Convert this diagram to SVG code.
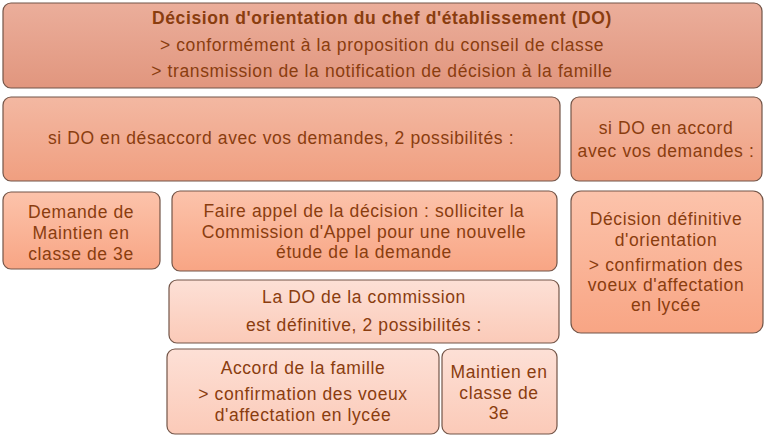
<svg xmlns="http://www.w3.org/2000/svg" width="767" height="437" viewBox="0 0 767 437">
<defs>
<linearGradient id="g1" x1="0" y1="0" x2="0" y2="1"><stop offset="0" stop-color="#ebae9b"/><stop offset="1" stop-color="#e1967e"/></linearGradient>
<linearGradient id="g2" x1="0" y1="0" x2="0" y2="1"><stop offset="0" stop-color="#f3b8a2"/><stop offset="1" stop-color="#f09f80"/></linearGradient>
<linearGradient id="g3" x1="0" y1="0" x2="0" y2="1"><stop offset="0" stop-color="#fcc3ab"/><stop offset="1" stop-color="#f8a584"/></linearGradient>
<linearGradient id="g4" x1="0" y1="0" x2="0" y2="1"><stop offset="0" stop-color="#fde0d6"/><stop offset="1" stop-color="#fbcab8"/></linearGradient>
</defs>
<style>
rect{stroke:#735548;stroke-width:1.2}
text{font-family:"Liberation Sans",Arial,sans-serif;font-size:17.5px;letter-spacing:0.6px;fill:#8a3d0f;text-anchor:middle}
.b{font-weight:bold}
</style>
<rect width="767" height="437" fill="#ffffff" style="stroke:none"/>
<g id="n1"><rect x="3" y="3" width="759" height="85" rx="8" fill="url(#g1)"/>
<text x="382" y="24" class="b">Décision d'orientation du chef d'établissement (DO)</text>
<text x="382" y="51">&gt; conformément à la proposition du conseil de classe</text>
<text x="382" y="77">&gt; transmission de la notification de décision à la famille</text></g>
<g id="n2"><rect x="3" y="97" width="557" height="84" rx="8" fill="url(#g2)"/>
<text x="281" y="144">si DO en désaccord avec vos demandes, 2 possibilités :</text></g>
<g id="n3"><rect x="571" y="97" width="191" height="84" rx="8" fill="url(#g2)"/>
<text x="666" y="134">si DO en accord</text>
<text x="666" y="157">avec vos demandes :</text></g>
<g id="n4"><rect x="3" y="192" width="157" height="77" rx="8" fill="url(#g3)"/>
<text x="81" y="218">Demande de</text>
<text x="81" y="239">Maintien  en</text>
<text x="81" y="260">classe de 3e</text></g>
<g id="n5"><rect x="172" y="191" width="385" height="80" rx="8" fill="url(#g3)"/>
<text x="364" y="217">Faire appel de la décision : solliciter la</text>
<text x="364" y="238">Commission d'Appel pour une nouvelle</text>
<text x="364" y="258">étude de la demande</text></g>
<g id="n6"><rect x="571" y="191" width="192" height="142" rx="10" fill="url(#g3)"/>
<text x="666" y="225">Décision définitive</text>
<text x="666" y="246">d'orientation</text>
<text x="666" y="271">&gt; confirmation des</text>
<text x="666" y="291">voeux d'affectation</text>
<text x="666" y="311">en lycée</text></g>
<g id="n7"><rect x="169" y="280" width="390" height="63" rx="8" fill="url(#g4)"/>
<text x="364" y="303">La DO de la commission</text>
<text x="364" y="331">est définitive, 2 possibilités :</text></g>
<g id="n8"><rect x="167" y="349" width="272" height="85" rx="8" fill="url(#g4)"/>
<text x="303" y="374">Accord de la famille</text>
<text x="303" y="400">&gt; confirmation des voeux</text>
<text x="303" y="421">d'affectation en lycée</text></g>
<g id="n9"><rect x="442" y="349" width="115" height="85" rx="8" fill="url(#g4)"/>
<text x="499" y="378">Maintien  en</text>
<text x="499" y="399">classe de</text>
<text x="499" y="419">3e</text></g>
<g id="connectors"></g>
</svg>
